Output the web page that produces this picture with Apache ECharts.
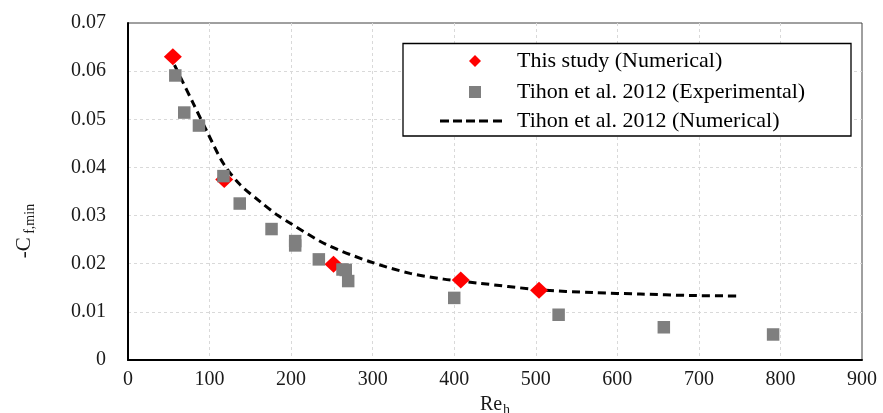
<!DOCTYPE html>
<html>
<head>
<meta charset="utf-8">
<script src="https://cdn.jsdelivr.net/npm/echarts@6/dist/echarts.min.js"></script>
<style>
  html, body { margin: 0; padding: 0; background: #fff; }
  #chart { width: 883px; height: 413px; }
</style>
</head>
<body>
<div id="chart"></div>
<script>
// Present simulations: minimum skin-friction coefficient vs. Reynolds number
const studyRe = [55, 118, 252, 408, 504];
const studyCf = [0.0630, 0.0375, 0.0199, 0.0166, 0.0145];

// Tihon et al. 2012 measurements
const expRe = [58, 69, 87, 117, 137, 176, 205, 205, 234, 263, 267, 270, 400, 528, 657, 791];
const expCf = [0.0591, 0.0514, 0.0487, 0.0382, 0.0325, 0.0272, 0.0247, 0.0238, 0.0209, 0.0188, 0.0187, 0.0164, 0.0129, 0.0094, 0.0068, 0.0053];

// Tihon et al. 2012 numerical curve
const curveRe = [50, 65, 80, 97, 117, 137, 162, 184, 200, 243, 297, 346, 387, 428, 504, 570, 628, 690, 750];
const curveCf = [0.0637, 0.0585, 0.0533, 0.0474, 0.0408, 0.0365, 0.0329, 0.0300, 0.0283, 0.0240, 0.0204, 0.0180, 0.0168, 0.0160, 0.0146, 0.0140, 0.0137, 0.0134, 0.0133];

const xTicks = ['0', '100', '200', '300', '400', '500', '600', '700', '800', '900'];
const yTicks = ['0', '0.01', '0.02', '0.03', '0.04', '0.05', '0.06', '0.07'];

const seriesNames = ['This study (Numerical)', 'Tihon et al. 2012 (Experimental)', 'Tihon et al. 2012 (Numerical)'];

const FONT = 'Liberation Serif';
const zip = (xs, ys) => xs.map((x, i) => [x, ys[i]]);

const legendText = pad => ({
  fontFamily: FONT, fontSize: 22, lineHeight: 20, color: '#000', padding: [0, 0, 0, pad]
});
// five short dashes, used as the key of the dashed curve
const DASH_ICON = 'path://M0,0h9v3h-9z M13,0h9v3h-9z M26,0h9v3h-9z M39,0h9v3h-9z M53,0h9v3h-9z';

const chart = echarts.init(document.getElementById('chart'), null, { renderer: 'canvas' });

chart.setOption({
  animation: false,
  backgroundColor: '#fff',
  grid: {
    left: 128, right: 21, top: 23, bottom: 53,
    show: true, borderColor: '#404040', borderWidth: 1,
    containLabel: false, outerBoundsMode: 'none'
  },
  xAxis: {
    type: 'value', min: 0, max: 900, interval: 100,
    axisLine: { show: true, onZero: false, lineStyle: { color: '#000', width: 2 } },
    axisTick: { show: false },
    axisLabel: {
      margin: 10, color: '#1a1a1a', fontFamily: FONT, fontSize: 20,
      formatter: v => xTicks[Math.round(v / 100)]
    },
    splitLine: {
      show: true, showMinLine: false, showMaxLine: false,
      lineStyle: { color: '#d9d9d9', width: 1, type: [3, 3] }
    },
    name: '{r|Re}{s|h}',
    nameLocation: 'middle',
    nameGap: 17,
    nameTextStyle: {
      rich: {
        r: { fontFamily: FONT, fontSize: 20, color: '#1a1a1a' },
        s: { fontFamily: FONT, fontSize: 14, color: '#1a1a1a', padding: [10, 0, 0, 1] }
      }
    }
  },
  yAxis: {
    type: 'value', min: 0, max: 0.07, interval: 0.01,
    axisLine: { show: true, onZero: false, lineStyle: { color: '#000', width: 2 } },
    axisTick: { show: false },
    axisLabel: {
      margin: 22, color: '#1a1a1a', fontFamily: FONT, fontSize: 20,
      formatter: v => yTicks[Math.round(v / 0.01)]
    },
    splitLine: {
      show: true, showMinLine: false, showMaxLine: false,
      lineStyle: { color: '#d9d9d9', width: 1, type: [3, 3] }
    }
  },
  legend: [
    {
      orient: 'vertical', left: 469, top: 50, padding: 0,
      itemWidth: 12, itemHeight: 12,
      textStyle: legendText(31),
      data: [{ name: seriesNames[0], icon: 'diamond' }]
    },
    {
      orient: 'vertical', left: 469, top: 81, padding: 0,
      itemWidth: 12, itemHeight: 12,
      textStyle: legendText(31),
      data: [{ name: seriesNames[1], icon: 'rect' }]
    },
    {
      orient: 'vertical', left: 440, top: 110, padding: 0,
      itemWidth: 62, itemHeight: 3,
      textStyle: legendText(10),
      data: [{ name: seriesNames[2], icon: DASH_ICON, itemStyle: { color: '#000' } }]
    }
  ],
  graphic: [
    {
      type: 'rect', z: 3,
      shape: { x: 403, y: 43.5, width: 448, height: 92.5 },
      style: { fill: '#fff', stroke: '#000', lineWidth: 1.3 }
    },
    {
      type: 'text', z: 5,
      x: 24, y: 231, rotation: Math.PI / 2,
      style: {
        text: '{c|-C} {s|f,min}',
        align: 'center', verticalAlign: 'middle',
        rich: {
          c: { fontFamily: FONT, fontSize: 21, fill: '#1a1a1a' },
          s: { fontFamily: FONT, fontSize: 14, fill: '#1a1a1a', padding: [12, 0, 0, 0] }
        }
      }
    }
  ],
  series: [
    {
      name: seriesNames[2], type: 'line', z: 2,
      data: zip(curveRe, curveCf),
      smooth: 0.3, symbol: 'none',
      lineStyle: { color: '#000', width: 3, type: [8, 5] },
      itemStyle: { color: '#000' }
    },
    {
      name: seriesNames[0], type: 'scatter', z: 3,
      data: zip(studyRe, studyCf),
      symbol: 'diamond', symbolSize: [18, 17],
      itemStyle: { color: '#ff0000', opacity: 1 }
    },
    {
      name: seriesNames[1], type: 'scatter', z: 4,
      data: zip(expRe, expCf),
      symbol: 'rect', symbolSize: 12.5,
      itemStyle: { color: '#7f7f7f', opacity: 1 }
    }
  ]
});
</script>
</body>
</html>
